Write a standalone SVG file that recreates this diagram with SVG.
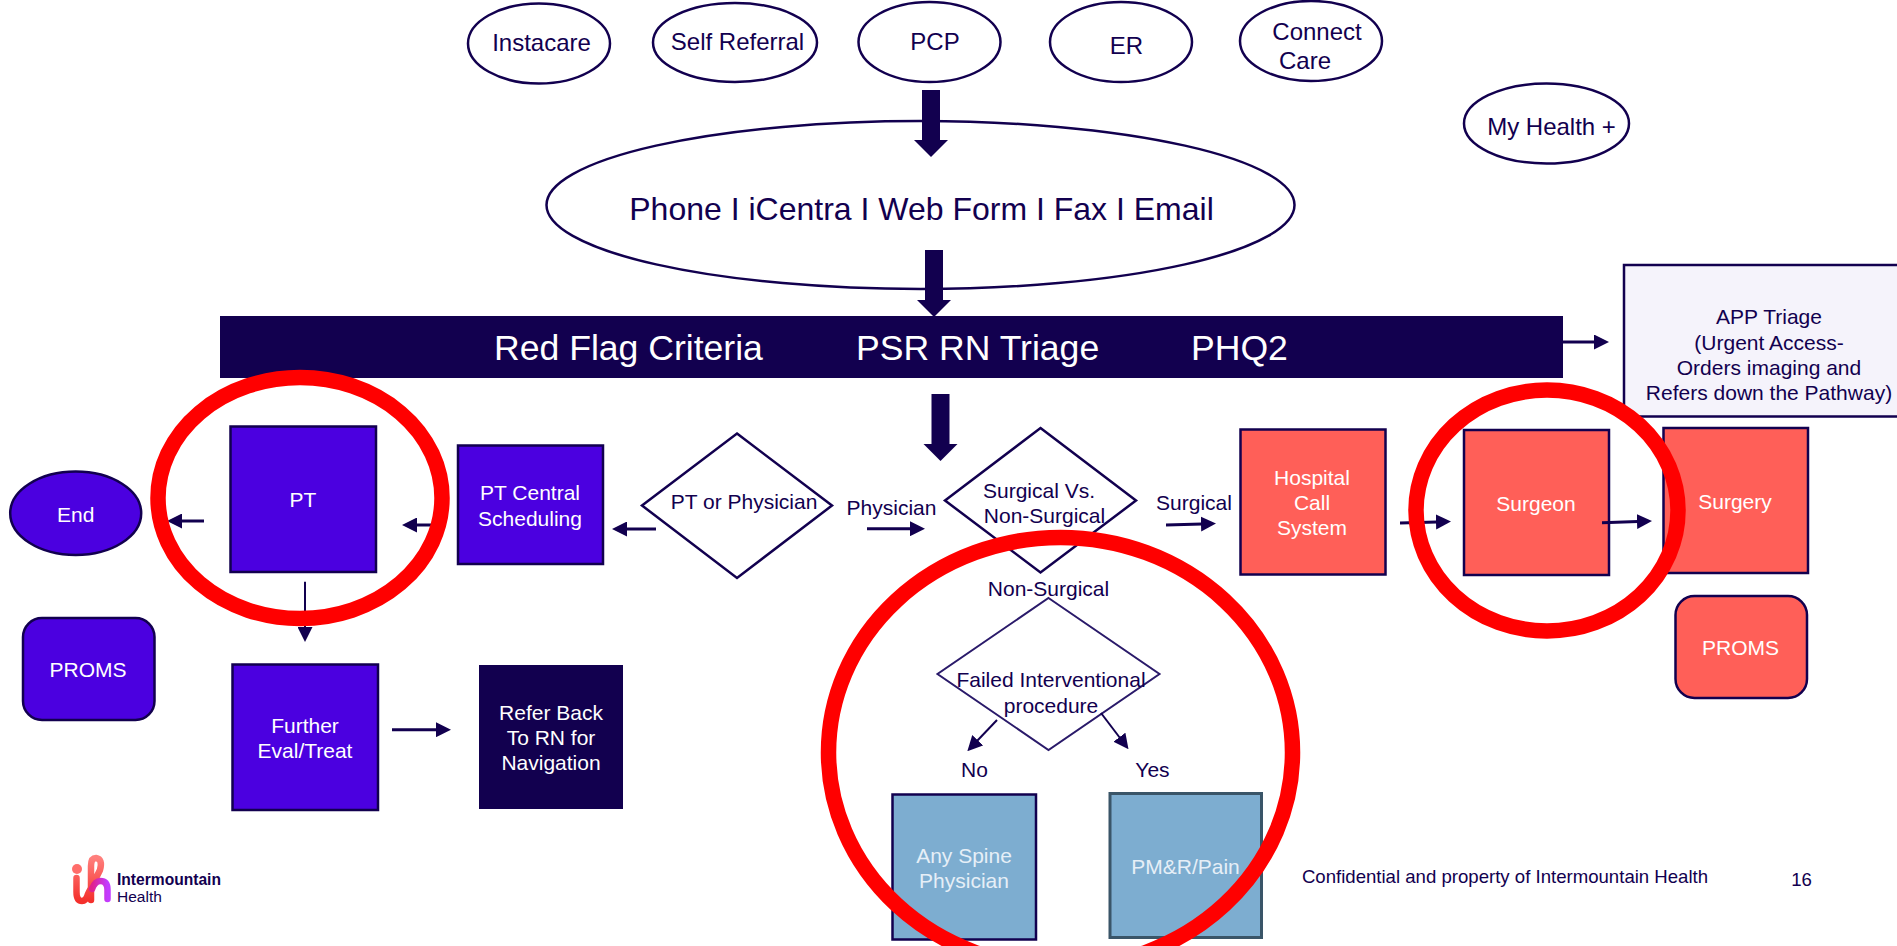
<svg xmlns="http://www.w3.org/2000/svg" width="1897" height="946" viewBox="0 0 1897 946">
<style>
text{font-family:"Liberation Sans",Arial,sans-serif;font-size:21px;fill:#12004f;text-anchor:middle}
.w{fill:#fff}.m{font-size:24px}.l{font-size:35.6px;fill:#fff;text-anchor:start}.f{fill:#e6eff7}
.o{fill:#fff;stroke:#12004f;stroke-width:2.5}
.p{fill:#4b00e0;stroke:#12004f;stroke-width:2.5}
.r{fill:#ff5f58;stroke:#12004f;stroke-width:2.5}
.b{fill:#7dadd0;stroke:#12004f;stroke-width:2.5}
.d{fill:#fff;stroke:#12004f;stroke-width:2.5}
.c{fill:none;stroke:#12004f;stroke-width:3;marker-end:url(#h)}
.t{fill:none;stroke:#12004f;stroke-width:2;marker-end:url(#h)}
.ring{fill:none;stroke:#f00;stroke-width:15.5}
</style>
<defs>
<marker id="h" markerUnits="userSpaceOnUse" viewBox="0 0 15 15" markerWidth="15" markerHeight="15" refX="1" refY="7.5" orient="auto"><path d="M0 0L15 7.5L0 15Z" fill="#12004f"/></marker>
<polygon id="block" points="-9,0 9,0 9,50 17,50 0,67 -17,50 -9,50" fill="#12004f"/>
<linearGradient id="lg1" x1="0" y1="0" x2="0" y2="1"><stop offset="0" stop-color="#ff7f7c"/><stop offset="1" stop-color="#f4302c"/></linearGradient>
<linearGradient id="lg2" x1="0" y1="0" x2="1" y2="0"><stop offset="0" stop-color="#e0208c"/><stop offset="1" stop-color="#c23cff"/></linearGradient>
</defs>

<g id="source-instacare"><ellipse class="o" cx="539" cy="43.5" rx="71" ry="40"/><text class="m" x="541.5" y="51">Instacare</text></g>
<g id="source-self-referral"><ellipse class="o" cx="735" cy="42.5" rx="82" ry="39.5"/><text class="m" x="737.5" y="50">Self Referral</text></g>
<g id="source-pcp"><ellipse class="o" cx="929.5" cy="42" rx="71" ry="40"/><text class="m" x="935" y="49.5">PCP</text></g>
<g id="source-er"><ellipse class="o" cx="1121" cy="42" rx="71" ry="40"/><text class="m" x="1126.5" y="53.5">ER</text></g>
<g id="source-connect-care"><ellipse class="o" cx="1311" cy="41" rx="71" ry="40"/><text class="m" x="1317" y="40">Connect</text><text class="m" x="1305" y="68.5">Care</text></g>
<g id="my-health"><ellipse class="o" cx="1546.5" cy="123.5" rx="82.5" ry="40"/><text class="m" x="1551.5" y="135">My Health +</text></g>
<g id="intake"><ellipse class="o" cx="920.5" cy="205" rx="374" ry="84"/><text x="921.5" y="219.5" style="font-size:32px">Phone I iCentra I Web Form I Fax I Email</text></g>

<g id="triage-bar"><rect x="220" y="316" width="1343" height="62" fill="#12004f"/>
<text class="l" x="494" y="360">Red Flag Criteria</text><text class="l" x="856" y="360">PSR RN Triage</text><text class="l" x="1191" y="360">PHQ2</text></g>

<g id="app-triage"><rect x="1624" y="265" width="290" height="151.5" fill="#f5f3fb" stroke="#12004f" stroke-width="2.5"/>
<text x="1769" y="324">APP Triage</text><text x="1769" y="349.5">(Urgent Access-</text><text x="1769" y="375">Orders imaging and</text><text x="1769" y="400">Refers down the Pathway)</text></g>

<g id="end"><ellipse class="p" cx="75.7" cy="513.3" rx="65.5" ry="41.7"/><text class="w" x="75.7" y="521.5">End</text></g>
<g id="proms-left"><rect class="p" x="23" y="618" width="131.5" height="102" rx="19" ry="19"/><text class="w" x="88" y="677">PROMS</text></g>
<g id="pt"><rect class="p" x="230.5" y="426.5" width="145.5" height="145.5"/><text class="w" x="303" y="506.5">PT</text></g>
<g id="pt-central"><rect class="p" x="458" y="445.5" width="145" height="118.5"/><text class="w" x="530" y="500">PT Central</text><text class="w" x="530" y="526">Scheduling</text></g>
<g id="pt-or-physician"><polygon class="d" points="737,433.5 832,505.5 737,578 642,505.5"/><text x="744" y="509">PT or Physician</text></g>
<g id="surgical-decision"><polygon class="d" points="1040.5,428 1136,500.5 1040.5,572.5 945,500.5"/><text x="1039" y="497.5">Surgical Vs.</text><text x="1044.5" y="522.5">Non-Surgical</text></g>
<g id="hospital-call"><rect class="r" x="1240.5" y="429.5" width="145" height="145"/><text class="w" x="1312" y="485">Hospital</text><text class="w" x="1312" y="510">Call</text><text class="w" x="1312" y="535">System</text></g>
<g id="surgeon"><rect class="r" x="1464" y="430" width="145" height="145"/><text class="w" x="1536" y="511">Surgeon</text></g>
<g id="surgery"><rect class="r" x="1663.5" y="428" width="144.5" height="145"/><text class="w" x="1735" y="509">Surgery</text></g>
<g id="proms-right"><rect class="r" x="1675.5" y="596" width="131.5" height="102" rx="19" ry="19"/><text class="w" x="1740.5" y="655">PROMS</text></g>
<g id="further-eval"><rect class="p" x="232.5" y="664.5" width="145.5" height="145.5"/><text class="w" x="305" y="733">Further</text><text class="w" x="305" y="757.5">Eval/Treat</text></g>
<g id="refer-back"><rect x="479" y="665" width="144" height="144" fill="#12004f"/><text class="w" x="551" y="720">Refer Back</text><text class="w" x="551" y="745">To RN for</text><text class="w" x="551" y="770">Navigation</text></g>
<g id="failed-interventional"><polygon points="1048.5,598 1159.5,674 1048.5,750 937.5,674" fill="#fff" stroke="#2a1a6a" stroke-width="2"/><text x="1051" y="686.5">Failed Interventional</text><text x="1051" y="712.5">procedure</text></g>
<g id="any-spine"><rect class="b" x="892.5" y="794.5" width="143.5" height="145"/><text class="f" x="964" y="862.5">Any Spine</text><text class="f" x="964" y="887.5">Physician</text></g>
<g id="pmr-pain"><rect x="1110" y="793.5" width="151.5" height="144" fill="#7dadd0" stroke="#3a5568" stroke-width="3"/><text class="f" x="1185.5" y="874">PM&amp;R/Pain</text></g>

<g id="labels"><text x="891.5" y="515">Physician</text><text x="1194" y="510">Surgical</text><text x="1048.5" y="596">Non-Surgical</text><text x="974.5" y="776.5">No</text><text x="1152.5" y="777">Yes</text></g>

<g id="connectors">
<use href="#block" x="931" y="90"/>
<use href="#block" x="934" y="250"/>
<use href="#block" x="940.5" y="394"/>
<path class="c" d="M1563 342H1595"/>
<path class="c" d="M204 521H181"/>
<path class="c" d="M433 525H416"/>
<path class="c" d="M656 529H626"/>
<path class="c" d="M867 528.7H911"/>
<path class="c" d="M1166 525L1202 524"/>
<path class="c" d="M1400 523L1437 522"/>
<path class="c" d="M1602 522.7L1638 521.5"/>
<path class="t" d="M305 581.7V628"/>
<path class="c" d="M392 729.7H437"/>
<path class="t" d="M997 720L977 741"/>
<path class="t" d="M1101 713L1120 738"/>
</g>

<g id="highlights">
<ellipse class="ring" cx="300" cy="498" rx="142" ry="120.5"/>
<ellipse class="ring" cx="1547" cy="510.5" rx="131" ry="120.5"/>
<ellipse class="ring" cx="1060.5" cy="752.5" rx="232" ry="215"/>
</g>

<g id="footer">
<text x="1505" y="882.5" style="font-size:18.6px">Confidential and property of Intermountain Health</text>
<text x="1801.5" y="886" style="font-size:18.6px">16</text>
<g id="logo">
<circle cx="77" cy="869" r="5" fill="#ff6d6a"/>
<path d="M76.5 878V892Q76.5 901 82 901Q86 901 88 894L100 870Q103 859 96 858Q91 858 91 866V900" fill="none" stroke="url(#lg1)" stroke-width="6.5" stroke-linecap="round" stroke-linejoin="round"/>
<path d="M92 889Q95 881 100.5 881Q107.5 881 107.5 890V899" fill="none" stroke="url(#lg2)" stroke-width="6.5" stroke-linecap="round"/>
<text x="117" y="885" style="font-size:15.6px;font-weight:bold;text-anchor:start">Intermountain</text>
<text x="117" y="901.5" style="font-size:15.5px;text-anchor:start">Health</text>
</g></g>
</svg>
